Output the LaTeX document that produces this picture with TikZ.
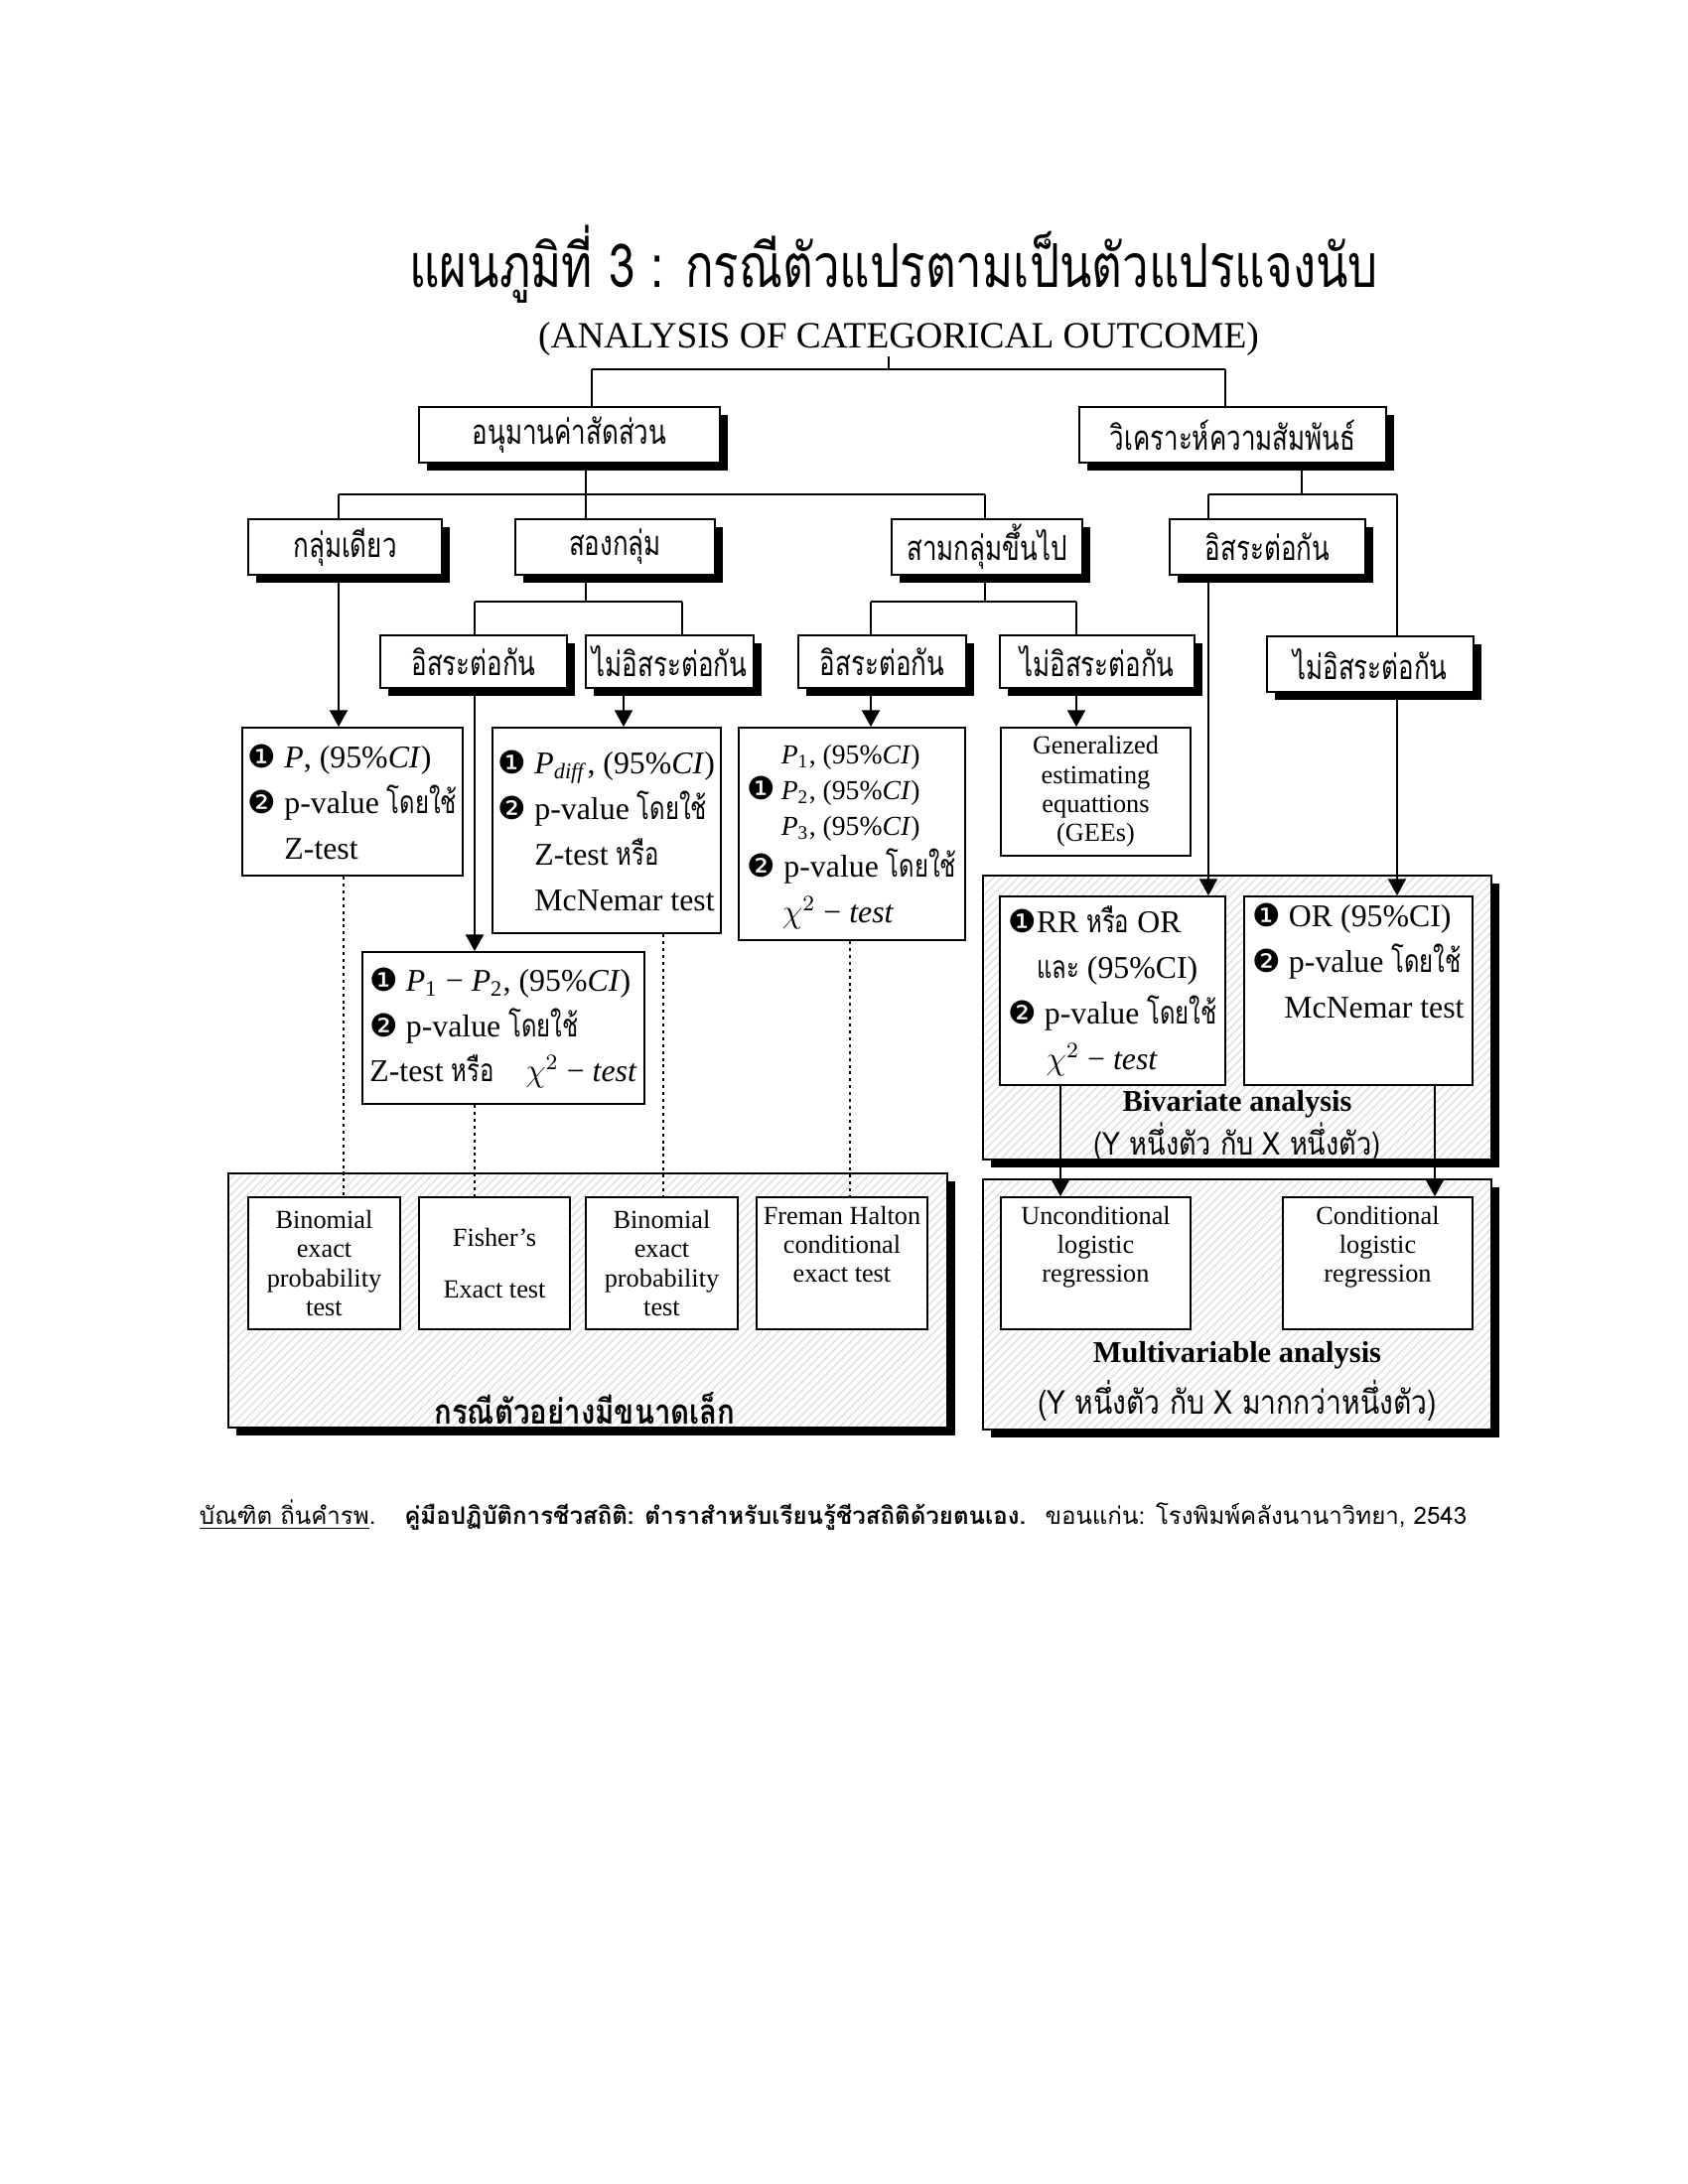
\documentclass[tikz,border=0pt]{standalone}
\usepackage{fontspec}
\setmainfont{Liberation Serif}
\newfontfamily\thaifont[Script=Thai, FakeStretch=0.85]{Loma}
\newfontfamily\boxfont[Script=Thai, FakeStretch=0.75]{Loma}
\newfontfamily\titlefont[Script=Thai, FakeStretch=0.78]{Loma}
\newfontfamily\citefont[Script=Thai]{Loma}
\newfontfamily\dingfont{DejaVu Sans}
\usepackage{tikz}
\usetikzlibrary{arrows.meta, positioning, shadows, patterns}

\newcommand{\pxu}{0.127mm}
\newcommand{\thtxt}[1]{{\boxfont #1}}
\newcommand{\circone}{{\dingfont ❶}}
\newcommand{\circtwo}{{\dingfont ❷}}

\tikzset{
  hshadow/.style={drop shadow={fill=black, opacity=1, shadow xshift=2.8pt, shadow yshift=-2.8pt}},
  headbox/.style={draw, line width=0.7pt, fill=white, hshadow, inner sep=0pt,
                  font=\boxfont\fontsize{12.5}{15}\selectfont},
  resbox/.style={draw, line width=0.7pt, fill=white, inner sep=2pt, align=left,
                 font=\fontsize{11.5}{16.6}\selectfont},
  testbox/.style={draw, line width=0.7pt, fill=white, inner sep=2pt, align=center,
                  font=\fontsize{9.5}{10.6}\selectfont},
  groupbox/.style={draw, line width=0.7pt, hshadow, preaction={fill=white},
                   pattern=north east lines, pattern color=black!14},
  flow/.style={line width=0.7pt, -{Triangle[length=6pt, width=6.5pt]}},
  dotline/.style={line width=0.6pt, dash pattern=on 1.1pt off 1.4pt},
}

\begin{document}
\begin{tikzpicture}[x=0.127mm, y=-0.127mm, line width=0.7pt]
  \useasboundingbox (0,0) rectangle (1700,2200);

  % titles
  \node[font=\titlefont\fontsize{22}{26}\selectfont] (title) at (900,266)
       {แผนภูมิที่ 3 : กรณีตัวแปรตามเป็นตัวแปรแจงนับ};
  \node[font=\fontsize{13.5}{16}\selectfont, inner sep=0pt] (sub) at (905,341)
       {(ANALYSIS OF CATEGORICAL OUTCOME)};

  % group boxes (drawn first)
  \node[groupbox, minimum width=724*\pxu, minimum height=256*\pxu] (small) at (592,1310) {};
  \node[groupbox, minimum width=512*\pxu, minimum height=286*\pxu] (bivar) at (1246,1025) {};
  \node[groupbox, minimum width=512*\pxu, minimum height=252*\pxu] (multi) at (1246,1314) {};

  % level 0
  \node[headbox, minimum width=303*\pxu, minimum height=56*\pxu] (prop) at (573.5,438) {อนุมานค่าสัดส่วน};
  \node[headbox, minimum width=309*\pxu, minimum height=56*\pxu] (assoc) at (1241.5,438) {วิเคราะห์ความสัมพันธ์};

  % level 1
  \node[headbox, minimum width=195*\pxu, minimum height=56*\pxu] (one) at (347.5,551) {กลุ่มเดียว};
  \node[headbox, minimum width=201*\pxu, minimum height=56*\pxu] (two) at (619.5,551) {สองกลุ่ม};
  \node[headbox, minimum width=192*\pxu, minimum height=56*\pxu] (three) at (994,551) {สามกลุ่มขึ้นไป};
  \node[headbox, minimum width=197*\pxu, minimum height=56*\pxu] (indR) at (1276.5,551) {อิสระต่อกัน};

  % level 2
  \node[headbox, minimum width=188*\pxu, minimum height=53*\pxu] (indA) at (477,666.5) {อิสระต่อกัน};
  \node[headbox, minimum width=169*\pxu, minimum height=53*\pxu] (depA) at (674.5,666.5) {ไม่อิสระต่อกัน};
  \node[headbox, minimum width=169*\pxu, minimum height=53*\pxu] (indB) at (888.5,666.5) {อิสระต่อกัน};
  \node[headbox, minimum width=196*\pxu, minimum height=53*\pxu] (depB) at (1105,666.5) {ไม่อิสระต่อกัน};
  \node[headbox, minimum width=208*\pxu, minimum height=56*\pxu] (depR) at (1380,669) {ไม่อิสระต่อกัน};

  % estimates and tests
  \node[resbox, minimum width=210*\pxu, minimum height=149*\pxu] (resOne) at (355,807.5)
       {\circone\ \textit{P}, (95\%\textit{CI})\\
        \circtwo\ p-value \thtxt{โดยใช้}\\
        \phantom{\circtwo\ }Z-test};
  \node[resbox, minimum width=226*\pxu, minimum height=207*\pxu] (resDep) at (611,836.5)
       {\circone\ \textit{P}\textsubscript{\textit{diff}}, (95\%\textit{CI})\\
        \circtwo\ p-value \thtxt{โดยใช้}\\
        \phantom{\circtwo\ }Z-test \thtxt{หรือ}\\
        \phantom{\circtwo\ }McNemar test};
  \node[resbox, minimum width=284*\pxu, minimum height=153*\pxu] (resInd) at (507,1035.5)
       {\circone\ \textit{P}\textsubscript{1} − \textit{P}\textsubscript{2}, (95\%\textit{CI})\\
        \circtwo\ p-value \thtxt{โดยใช้}\\
        Z-test \thtxt{หรือ}\quad $\chi^2$ − \textit{test}};
  \node[resbox, minimum width=228*\pxu, minimum height=214*\pxu] (resThree) at (858,840)
       {\circone\,{\fontsize{10}{13}\selectfont\begin{tabular}[c]{@{}l@{}}
          \textit{P}\textsubscript{1}, (95\%\textit{CI})\\
          \textit{P}\textsubscript{2}, (95\%\textit{CI})\\
          \textit{P}\textsubscript{3}, (95\%\textit{CI})\end{tabular}}\\
        \circtwo\ p-value \thtxt{โดยใช้}\\
        \hspace*{1.1em}$\chi^2$ − \textit{test}};
  \node[testbox, minimum width=191*\pxu, minimum height=129*\pxu] (gee) at (1103.5,797.5)
       {Generalized\\ estimating\\ equattions\\ (GEEs)};

  % bivariate
  \node[resbox, minimum width=227*\pxu, minimum height=190*\pxu] (rrbox) at (1120.5,998)
       {\circone RR \thtxt{หรือ} OR\\
        \hspace*{0.9em}\thtxt{และ} (95\%CI)\\
        \circtwo\ p-value \thtxt{โดยใช้}\\
        \hspace*{1.2em}$\chi^2$ − \textit{test}};
  \node[resbox, minimum width=230*\pxu, minimum height=190*\pxu] (orbox) at (1368,998)
       {\circone\ OR (95\%CI)\\
        \circtwo\ p-value \thtxt{โดยใช้}\\
        \hspace*{1em}McNemar test\\ \strut};
  \node[font=\bfseries\fontsize{11}{13}\selectfont] (bivlab) at (1246,1112) {Bivariate analysis};
  \node[font=\thaifont\fontsize{11.5}{14}\selectfont] (bivsub) at (1246,1150) {(Y หนึ่งตัว กับ X หนึ่งตัว)};

  % multivariable
  \node[testbox, minimum width=191*\pxu, minimum height=133*\pxu] (uncond) at (1103.5,1272.5)
       {Unconditional\\ logistic\\ regression\\ \strut};
  \node[testbox, minimum width=191*\pxu, minimum height=133*\pxu] (cond) at (1387.5,1272.5)
       {Conditional\\ logistic\\ regression\\ \strut};
  \node[font=\bfseries\fontsize{11}{13}\selectfont] (multlab) at (1246,1365) {Multivariable analysis};
  \node[font=\thaifont\fontsize{12}{14}\selectfont] (multsub) at (1246,1411) {(Y หนึ่งตัว กับ X มากกว่าหนึ่งตัว)};

  % small samples
  \node[testbox, minimum width=153*\pxu, minimum height=133*\pxu] (binA) at (326.5,1272.5)
       {Binomial\\ exact\\ probability\\ test};
  \node[testbox, minimum width=152*\pxu, minimum height=133*\pxu] (fisher) at (498,1272.5)
       {Fisher’s\\[8pt] Exact test};
  \node[testbox, minimum width=153*\pxu, minimum height=133*\pxu] (binB) at (666.5,1272.5)
       {Binomial\\ exact\\ probability\\ test};
  \node[testbox, minimum width=172*\pxu, minimum height=133*\pxu] (freman) at (848,1272.5)
       {Freman Halton\\ conditional\\ exact test\\ \strut};
  \node[font=\thaifont\bfseries\fontsize{12.5}{15}\selectfont] (smalllab) at (589,1419) {กรณีตัวอย่างมีขนาดเล็ก};

  % source
  \node[anchor=west, inner sep=0pt, font=\citefont\fontsize{8.7}{11}\selectfont] (cite) at (200,1526)
       {\underline{บัณฑิต ถิ่นคำรพ}.\hspace{1.2em}{\bfseries คู่มือปฏิบัติการชีวสถิติ: ตำราสำหรับเรียนรู้ชีวสถิติด้วยตนเอง.}\hspace{0.8em}ขอนแก่น: โรงพิมพ์คลังนานาวิทยา, 2543};

  % junctions
  \coordinate (top) at (895,372);
  \coordinate (topL) at (596,372);
  \coordinate (topR) at (1234,372);
  \coordinate (propM) at (590,498);
  \coordinate (propL) at (341,498);
  \coordinate (propR) at (992,498);
  \coordinate (assocM) at (1311,498);
  \coordinate (assocL) at (1217,498);
  \coordinate (assocR) at (1407,498);
  \coordinate (twoM) at (590,606);
  \coordinate (twoL) at (478,606);
  \coordinate (twoR) at (687,606);
  \coordinate (threeM) at (992,606);
  \coordinate (threeL) at (877,606);
  \coordinate (threeR) at (1084,606);
  \coordinate (depAx) at (628,720);
  \coordinate (uncX) at (1068,1150);
  \coordinate (conX) at (1445,1150);
  \coordinate (dotA) at (346,1150);
  \coordinate (dotC) at (668,1150);
  \coordinate (dotD) at (856,1150);

  % tree lines
  \draw (top |- sub.south) -- (top);
  \draw (topL) -- (topR);
  \draw (topL) -- (topL |- prop.north);
  \draw (topR) -- (topR |- assoc.north);

  \draw (propM |- prop.south) -- (propM);
  \draw (propL) -- (propR);
  \draw (propL) -- (propL |- one.north);
  \draw (propM) -- (propM |- two.north);
  \draw (propR) -- (propR |- three.north);

  \draw (assocM |- assoc.south) -- (assocM);
  \draw (assocL) -- (assocR);
  \draw (assocL) -- (assocL |- indR.north);
  \draw (assocR) -- (assocR |- depR.north);

  \draw (twoM |- two.south) -- (twoM);
  \draw (twoL) -- (twoR);
  \draw (twoL) -- (twoL |- indA.north);
  \draw (twoR) -- (twoR |- depA.north);

  \draw (threeM |- three.south) -- (threeM);
  \draw (threeL) -- (threeR);
  \draw (threeL) -- (threeL |- indB.north);
  \draw (threeR) -- (threeR |- depB.north);

  % arrows
  \draw[flow] (propL |- one.south) -- (propL |- resOne.north);
  \draw[flow] (twoL |- indA.south) -- (twoL |- resInd.north);
  \draw[flow] (depAx |- depA.south) -- (depAx |- resDep.north);
  \draw[flow] (threeL |- indB.south) -- (threeL |- resThree.north);
  \draw[flow] (threeR |- depB.south) -- (threeR |- gee.north);
  \draw[flow] (assocL |- indR.south) -- (assocL |- rrbox.north);
  \draw[flow] (assocR |- depR.south) -- (assocR |- orbox.north);
  \draw[flow] (uncX |- rrbox.south) -- (uncX |- uncond.north);
  \draw[flow] (conX |- orbox.south) -- (conX |- cond.north);

  % small sample links
  \draw[dotline] (dotA |- resOne.south) -- (dotA |- binA.north);
  \draw[dotline] (twoL |- resInd.south) -- (twoL |- fisher.north);
  \draw[dotline] (dotC |- resDep.south) -- (dotC |- binB.north);
  \draw[dotline] (dotD |- resThree.south) -- (dotD |- freman.north);
\end{tikzpicture}
\end{document}
